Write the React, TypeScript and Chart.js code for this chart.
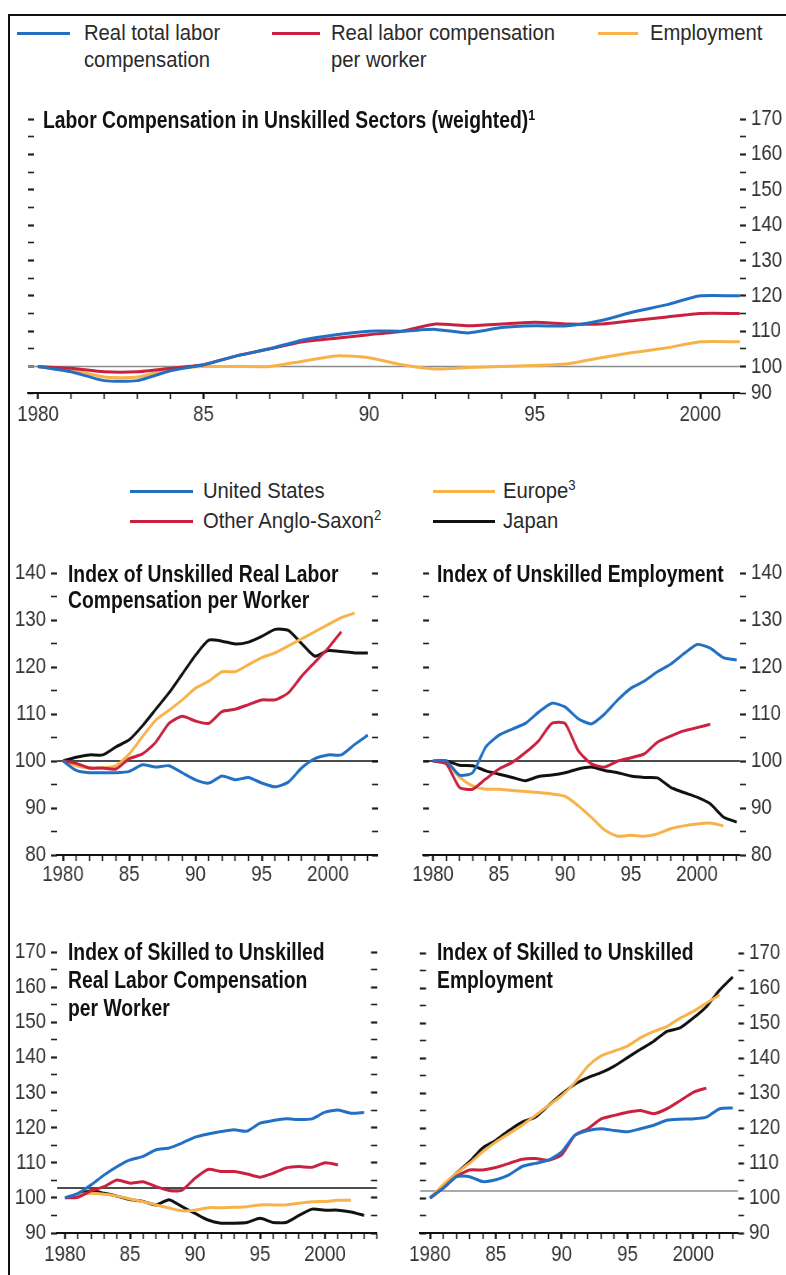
import React, { useEffect, useRef } from 'react';
import { Chart, registerables } from 'chart.js';

Chart.register(...registerables);

const SANS = "'Liberation Sans', Arial, sans-serif";
// horizontal condensing applied to each canvas (the reference uses a condensed face)
const SQUEEZE = 0.85;

const BLUE = '#2270c4';
const RED = '#c9213f';
const ORANGE = '#f8b24a';
const BLACK = '#111111';
const GREY = '#8c8c8c';

// ---------- Top panel: Labor Compensation in Unskilled Sectors (weighted)
const topYears = [1980, 1981, 1982, 1983, 1984, 1985, 1986, 1987, 1988, 1989, 1990, 1991, 1992, 1993, 1994, 1995, 1996, 1997, 1998, 1999, 2000, 2001.2];
const topRealTotal = [100, 98.5, 96, 96, 98.8, 100.5, 103, 105, 107.5, 109, 110, 110, 110.5, 109.5, 111, 111.5, 111.5, 113, 115.5, 117.5, 120, 120];
const topPerWorker = [100, 99.5, 98.5, 98.5, 99.5, 100.5, 103, 105, 107, 108, 109, 110, 112, 111.5, 112, 112.5, 112, 112, 113, 114, 115, 115];
const topEmployment = [100, 99, 97, 97, 99.3, 100, 100, 100, 101.5, 103, 102.5, 100.5, 99.3, 99.7, 100, 100.3, 100.8, 102.5, 104, 105.3, 107, 107];

// ---------- Country panels (years 1980 onwards)
const years = [1980, 1981, 1982, 1983, 1984, 1985, 1986, 1987, 1988, 1989, 1990, 1991, 1992, 1993, 1994, 1995, 1996, 1997, 1998, 1999, 2000, 2001, 2002, 2003];

// Index of Unskilled Real Labor Compensation per Worker
const compUS = [100, 98, 97.5, 97.5, 97.5, 97.8, 99.2, 98.7, 99, 97.5, 96, 95.3, 96.8, 96, 96.5, 95.3, 94.5, 95.5, 98.5, 100.5, 101.3, 101.3, 103.5, 105.5];
const compAnglo = [100, 99.5, 98.5, 98.5, 98.3, 100.5, 101.5, 104, 108, 109.5, 108.5, 108, 110.5, 111, 112, 113, 113, 114.5, 118, 121, 124, 127.5];
const compEurope = [100, 99, 98.5, 98.5, 99, 101.5, 105.2, 108.7, 110.8, 113, 115.5, 117, 119, 119, 120.5, 122, 123, 124.5, 126, 127.5, 129, 130.5, 131.5];
const compJapan = [100, 100.8, 101.3, 101.3, 103, 104.5, 107.5, 111, 114.5, 118.5, 122.5, 125.7, 125.5, 124.9, 125.3, 126.5, 128, 127.8, 125, 122.3, 123.5, 123.3, 123, 123];

// Index of Unskilled Employment
const empUS = [100, 100, 97, 97.5, 103, 105.5, 106.8, 108, 110.4, 112.3, 111.5, 109, 107.9, 110, 113, 115.5, 117, 119, 120.6, 122.8, 124.8, 124, 122, 121.5];
const empAnglo = [100, 99.4, 94.4, 94, 96.2, 98.3, 99.7, 101.8, 104.3, 108, 108, 102.2, 99.4, 98.7, 100, 100.7, 101.5, 104, 105.3, 106.4, 107.1, 107.8];
const empEurope = [100, 99.5, 96.6, 94.7, 94, 94, 93.7, 93.5, 93.3, 93, 92.5, 90.5, 88, 85.3, 84, 84.2, 84, 84.5, 85.6, 86.2, 86.6, 86.8, 86.2];
const empJapan = [100, 100, 99.1, 99, 97.9, 97.2, 96.5, 95.8, 96.7, 97, 97.5, 98.3, 98.7, 98, 97.5, 96.8, 96.5, 96.4, 94.4, 93.3, 92.3, 90.9, 88.1, 87];

// Index of Skilled to Unskilled Real Labor Compensation per Worker
const relUS = [100, 101.3, 103.7, 106.5, 108.9, 110.8, 111.8, 113.7, 114.2, 115.6, 117.3, 118.2, 118.9, 119.4, 119, 121.3, 122, 122.5, 122.3, 122.5, 124.4, 125, 124.1, 124.3];
const relAnglo = [100, 100.2, 102, 103.2, 105.1, 104.2, 104.6, 103.2, 102.1, 102.2, 105.6, 108.1, 107.5, 107.5, 106.8, 105.9, 107, 108.5, 108.9, 108.7, 110, 109.4];
const relEurope = [100, 100.8, 101.3, 101, 100.5, 99.7, 98.9, 98, 97.1, 96.3, 96.5, 97.2, 97.2, 97.3, 97.5, 98, 98, 98, 98.5, 98.9, 99, 99.3, 99.3];
const relJapan = [100, 101, 102, 101.3, 100.5, 99.5, 99, 98, 99.5, 97.5, 95.6, 93.7, 92.8, 92.8, 93, 94.2, 93, 93, 95, 96.8, 96.5, 96.5, 96, 95];

// Index of Skilled to Unskilled Employment
const skUS = [100, 102.8, 106.1, 106.1, 104.7, 105.2, 106.6, 109, 109.9, 110.8, 113.2, 117.9, 119.3, 119.8, 119.3, 118.9, 119.8, 120.8, 122.2, 122.5, 122.6, 123.1, 125.5, 125.7];
const skAnglo = [100, 102.8, 106.1, 108, 108, 108.7, 109.9, 111.1, 111.3, 110.8, 112.3, 117.9, 119.8, 122.6, 123.6, 124.5, 125, 124.1, 125.5, 127.8, 130.2, 131.4];
const skEurope = [100, 103.8, 107.1, 109.9, 113.2, 116, 118.4, 120.8, 123.6, 126.4, 129.2, 133, 137.7, 140.6, 142, 143.4, 145.8, 147.6, 149, 151.4, 153.3, 155.7, 158];
const skJapan = [100, 103.3, 107.1, 110.4, 114.3, 116.5, 119.3, 121.7, 123.1, 126.4, 129.7, 132.5, 134.4, 135.8, 137.7, 140.1, 142.5, 144.8, 147.6, 148.6, 151.4, 154.7, 159.4, 163.2];

// reference lines drawn in each panel
const topBase = 100;
const compBase = 100;
const empBase = 100;
const relBase = 102.8;
const skBase = 102;

type Series = { color: string; xs: number[]; ys: number[] };

interface PanelProps {
  left: number; top: number; width: number; height: number;
  padTop: number; leftW: number; rightW: number; bottomH: number;
  xMin: number; xMax: number; yMin: number; yMax: number;
  series: Series[];
  base: number; baseColor: string;
  labelSide: 'left' | 'right';
  leftInward: boolean; rightInward: boolean;
  xPad: number;
}

const tickFont = { family: SANS, size: 22 };

function yearLabel(v: number): string {
  if (v % 5 !== 0) return '';
  if (v % 20 === 0) return String(v);
  return String(v % 100).padStart(2, '0');
}

function Panel(p: PanelProps) {
  const ref = useRef<HTMLCanvasElement>(null);
  const cw = Math.round(p.width / SQUEEZE);
  const k = cw / p.width; // canvas units per screen pixel horizontally
  useEffect(() => {
    const yLab = (v: number) => {
      if (v % 10 === 0) return String(v);
      if (v === p.yMin) return String(Math.floor(v / 10) * 10);
      return '';
    };
    const tickW = (ctx: any) => (ctx.tick && ctx.tick.value % 10 === 0 ? 2.2 : 1.6);
    const yAxis = (side: 'left' | 'right', inward: boolean, w: number) => ({
      type: 'linear' as const,
      position: side,
      min: p.yMin,
      max: p.yMax,
      border: { display: false },
      grid: {
        drawOnChartArea: false,
        drawTicks: true,
        tickLength: (inward ? -6 : 6) * k,
        tickColor: '#222',
        tickWidth: tickW,
      },
      ticks: {
        display: p.labelSide === side,
        autoSkip: false,
        stepSize: 5,
        padding: 5 * k,
        color: '#333',
        font: tickFont,
        callback: (v: any) => yLab(Number(v)),
      },
      afterFit: (s: any) => { s.width = w * k; },
    });
    const datasets: any[] = p.series.map((s, i) => ({
      data: s.xs.slice(0, s.ys.length).map((x, j) => ({ x, y: s.ys[j] })),
      borderColor: s.color,
      borderWidth: 3,
      pointRadius: 0,
      tension: 0.2,
      order: i,
      yAxisID: 'y',
    }));
    datasets.push({
      data: [{ x: p.xMin, y: p.base }, { x: p.xMax, y: p.base }],
      borderColor: p.baseColor,
      borderWidth: 1.6,
      pointRadius: 0,
      order: 20,
      yAxisID: 'y',
    });
    const chart = new Chart(ref.current!, {
      type: 'line',
      data: { datasets },
      options: {
        responsive: false,
        animation: false,
        devicePixelRatio: 1,
        events: [],
        layout: { padding: { top: p.padTop, left: 0, right: 0, bottom: 0 } },
        plugins: { legend: { display: false }, tooltip: { enabled: false } },
        scales: {
          x: {
            type: 'linear',
            position: 'bottom',
            min: p.xMin,
            max: p.xMax,
            border: { display: true, color: '#111', width: 2 },
            grid: {
              drawOnChartArea: false,
              drawTicks: true,
              tickLength: 6,
              tickColor: '#111',
              tickWidth: (ctx: any) => (ctx.tick && ctx.tick.value % 5 === 0 ? 2.4 : 1.6),
            },
            ticks: {
              stepSize: 1,
              autoSkip: false,
              includeBounds: false,
              maxRotation: 0,
              padding: p.xPad,
              color: '#333',
              font: tickFont,
              callback: (v: any) => yearLabel(Number(v)),
            },
            afterFit: (s: any) => { s.height = p.bottomH; },
          },
          y: yAxis('left', p.leftInward, p.leftW),
          y2: yAxis('right', p.rightInward, p.rightW),
        },
      } as any,
    });
    return () => chart.destroy();
  }, []);
  return (
    <canvas
      ref={ref}
      width={cw}
      height={p.height}
      style={{ position: 'absolute', left: p.left, top: p.top, width: p.width, height: p.height }}
    />
  );
}

function LegendLine({ x, y, w, color }: { x: number; y: number; w: number; color: string }) {
  return <div style={{ position: 'absolute', left: x, top: y - 1.5, width: w, height: 3, background: color, zIndex: 2 }} />;
}

function Text({ x, y, size, bold, lh, sx, children }: { x: number; y: number; size: number; bold?: boolean; lh: number; sx: number; children: React.ReactNode }) {
  return (
    <div
      style={{
        position: 'absolute',
        left: x,
        top: y,
        fontFamily: SANS,
        fontSize: size,
        fontWeight: bold ? 700 : 400,
        lineHeight: `${lh}px`,
        color: bold ? '#111' : '#2a2a2a',
        whiteSpace: 'nowrap',
        transform: `scaleX(${sx})`,
        transformOrigin: '0 0',
        zIndex: 2,
      }}
    >
      {children}
    </div>
  );
}

const sup: React.CSSProperties = { fontSize: '0.65em', verticalAlign: '0.55em', lineHeight: 0 };

const LEG = 0.92; // legend text condensing
const TTL = 0.84; // title text condensing

export default function App() {
  useEffect(() => {
    document.body.style.margin = '0';
    document.body.style.background = '#fff';
  }, []);
  const country = (us: number[], anglo: number[], eu: number[], jp: number[]): Series[] => [
    { color: BLUE, xs: years, ys: us },
    { color: RED, xs: years, ys: anglo },
    { color: ORANGE, xs: years, ys: eu },
    { color: BLACK, xs: years, ys: jp },
  ];
  return (
    <div style={{ position: 'relative', width: 786, height: 1275, overflow: 'hidden', background: '#fff' }}>
      {/* frame */}
      <div style={{ position: 'absolute', left: 8, top: 14, width: 2, height: 1261, background: '#111' }} />
      <div style={{ position: 'absolute', left: 8, top: 14, width: 778, height: 2, background: '#111' }} />

      {/* top legend */}
      <LegendLine x={17} y={33} w={53} color={BLUE} />
      <Text x={84} y={19} size={22} lh={27} sx={LEG}>Real total labor<br />compensation</Text>
      <LegendLine x={272} y={33} w={48} color={RED} />
      <Text x={331} y={19} size={22} lh={27} sx={LEG}>Real labor compensation<br />per worker</Text>
      <LegendLine x={598} y={33} w={40} color={ORANGE} />
      <Text x={650} y={19} size={22} lh={27} sx={LEG}>Employment</Text>

      <Text x={43} y={106} size={23} bold lh={28} sx={TTL}>
        Labor Compensation in Unskilled Sectors (weighted)<span style={sup}>1</span>
      </Text>

      <Panel
        left={0} top={100} width={786} height={330}
        padTop={17} leftW={28} rightW={46} bottomH={37}
        xMin={1979.7} xMax={2001.2} yMin={92.5} yMax={170}
        series={[
          { color: BLUE, xs: topYears, ys: topRealTotal },
          { color: RED, xs: topYears, ys: topPerWorker },
          { color: ORANGE, xs: topYears, ys: topEmployment },
        ]}
        base={topBase} baseColor={GREY}
        labelSide="right" leftInward={true} rightInward={false} xPad={3}
      />

      {/* country legend */}
      <LegendLine x={130} y={491} w={63} color={BLUE} />
      <Text x={203} y={477} size={22} lh={27} sx={LEG}>United States</Text>
      <LegendLine x={130} y={521} w={63} color={RED} />
      <Text x={203} y={507} size={22} lh={27} sx={LEG}>Other Anglo-Saxon<span style={sup}>2</span></Text>
      <LegendLine x={433} y={491} w={62} color={ORANGE} />
      <Text x={503} y={477} size={22} lh={27} sx={LEG}>Europe<span style={sup}>3</span></Text>
      <LegendLine x={433} y={521} w={62} color={BLACK} />
      <Text x={503} y={507} size={22} lh={27} sx={LEG}>Japan</Text>

      <Text x={68} y={561} size={23} bold lh={26} sx={TTL}>Index of Unskilled Real Labor<br />Compensation per Worker</Text>
      <Panel
        left={0} top={540} width={390} height={350}
        padTop={33} leftW={57} rightW={12} bottomH={35}
        xMin={1979.55} xMax={2003.77} yMin={80} yMax={140}
        series={country(compUS, compAnglo, compEurope, compJapan)}
        base={compBase} baseColor={BLACK}
        labelSide="left" leftInward={false} rightInward={true} xPad={1}
      />

      <Text x={437} y={561} size={23} bold lh={26} sx={TTL}>Index of Unskilled Employment</Text>
      <Panel
        left={390} top={540} width={396} height={350}
        padTop={33} leftW={33} rightW={46} bottomH={35}
        xMin={1979.24} xMax={2003.26} yMin={80} yMax={140}
        series={country(empUS, empAnglo, empEurope, empJapan)}
        base={empBase} baseColor={BLACK}
        labelSide="right" leftInward={true} rightInward={false} xPad={1}
      />

      <Text x={68} y={938} size={23} bold lh={28} sx={TTL}>Index of Skilled to Unskilled<br />Real Labor Compensation<br />per Worker</Text>
      <Panel
        left={0} top={920} width={390} height={355}
        padTop={32} leftW={57} rightW={13} bottomH={42}
        xMin={1979.38} xMax={2004} yMin={90} yMax={170}
        series={country(relUS, relAnglo, relEurope, relJapan)}
        base={relBase} baseColor={BLACK}
        labelSide="left" leftInward={false} rightInward={true} xPad={3}
      />

      <Text x={437} y={938} size={23} bold lh={28} sx={TTL}>Index of Skilled to Unskilled<br />Employment</Text>
      <Panel
        left={390} top={920} width={396} height={355}
        padTop={33} leftW={30} rightW={48} bottomH={42}
        xMin={1979.24} xMax={2003.4} yMin={90} yMax={170}
        series={country(skUS, skAnglo, skEurope, skJapan)}
        base={skBase} baseColor={GREY}
        labelSide="right" leftInward={true} rightInward={false} xPad={3}
      />
    </div>
  );
}
